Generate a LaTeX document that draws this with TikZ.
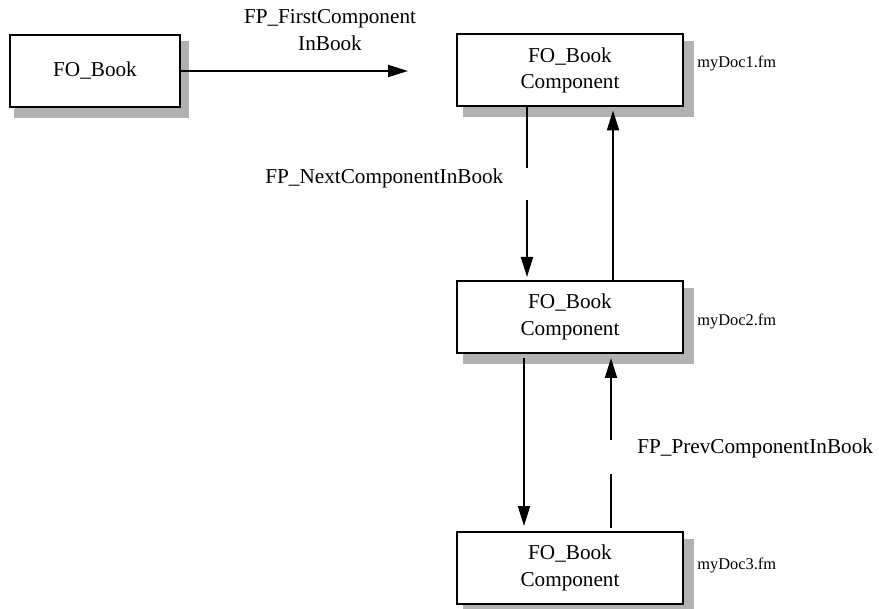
\documentclass[tikz,border=0pt]{standalone}
\usepackage{fontspec}
\setmainfont{Liberation Serif}
\usetikzlibrary{arrows.meta}
\pgfdeclarelayer{background}
\pgfsetlayers{background,main}
\begin{document}
\begin{tikzpicture}[x=0.5pt,y=-0.5pt,
  box/.style={draw,line width=1pt,fill=white,inner sep=0pt,minimum width=113pt,minimum height=36pt,align=center,font=\fontsize{10.6}{13.4}\selectfont},
  lbl/.style={inner sep=0pt,align=center,font=\fontsize{10.6}{13.4}\selectfont},
  fname/.style={inner sep=0pt,anchor=west,font=\fontsize{8.2}{10}\selectfont},
  conn/.style={line width=1pt},
  arr/.style={line width=1pt,-{Triangle[length=10pt,width=6pt]}},
  shade/.style={fill=black!30,draw=none}]
\useasboundingbox (0,0) rectangle (879,609);
% nodes
\node[box,minimum width=85pt] (book) at (95,71) {FO\_Book};
\node[box] (c1) at (570,70.5) {FO\_Book\\Component};
\node[box] (c2) at (570,317) {FO\_Book\\Component};
\node[box] (c3) at (570,568) {FO\_Book\\Component};
% shadows
\begin{pgfonlayer}{background}
\fill[shade] ([shift={(5,7)}]book.north west) rectangle ([shift={(8,10)}]book.south east);
\fill[shade] ([shift={(7,8)}]c1.north west) rectangle ([shift={(10,10)}]c1.south east);
\fill[shade] ([shift={(7,8)}]c2.north west) rectangle ([shift={(10,10)}]c2.south east);
\fill[shade] ([shift={(7,8)}]c3.north west) rectangle ([shift={(10,10)}]c3.south east);
\end{pgfonlayer}
% labels
\node[lbl] (lfirst) at (330,30) {FP\_FirstComponent\\InBook};
\node[lbl,anchor=west] (lnext) at (265,178) {FP\_NextComponentInBook};
\node[lbl,anchor=west] (lprev) at (637,448) {FP\_PrevComponentInBook};
\node[fname] (f1) at (697,63) {myDoc1.fm};
\node[fname] (f2) at (697,321) {myDoc2.fm};
\node[fname] (f3) at (697,565) {myDoc3.fm};
% connectors
\coordinate (firstend) at (408,71);
\draw[arr] (book.east) -- (firstend);
\coordinate (n1) at (527,168);
\coordinate (n2) at (527,200);
\draw[conn] (c1.south -| n1) -- (n1);
\draw[arr,shorten >=1.5pt] (n2) -- (c2.north -| n2);
\coordinate (u1) at (613,200);
\draw[arr,shorten >=1.5pt] (c2.north -| u1) -- (c1.south -| u1);
\coordinate (d1) at (524,440);
\draw[arr,shorten <=2pt,shorten >=2.5pt] (c2.south -| d1) -- (c3.north -| d1);
\coordinate (p1) at (611,474);
\coordinate (p2) at (611,440);
\draw[conn,shorten <=1.5pt] (c3.north -| p1) -- (p1);
\draw[arr,shorten >=2pt] (p2) -- (c2.south -| p2);
\end{tikzpicture}
\end{document}
